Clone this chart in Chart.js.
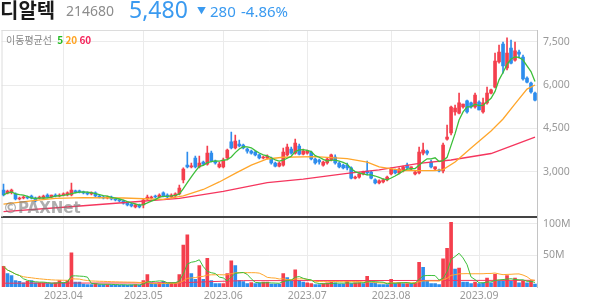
<!DOCTYPE html>
<html>
<head>
<meta charset="utf-8">
<script src="https://cdn.jsdelivr.net/npm/chart.js@4.4.0/dist/chart.umd.min.js"></script>
<style>
  body { margin: 0; width: 594px; height: 304px; background: #fff; position: relative; overflow: hidden;
         font-family: "Noto Sans", "Noto Sans CJK KR", sans-serif; }
  canvas { position: absolute; left: 0; }
  #price { top: 0; }
  #vol { top: 217px; }
  .t { position: absolute; white-space: nowrap; line-height: 1; }
  .kr { font-family: "Noto Sans CJK KR", sans-serif; }
</style>
</head>
<body>
<canvas id="price" width="594" height="218"></canvas>
<canvas id="vol" width="594" height="87"></canvas>

<div class="t kr" style="left:0;top:0;font-size:20px;font-weight:700;color:#1a1a1a">디알텍</div>
<div class="t" style="left:66px;top:4px;font-size:14px;color:#8c8c8c">214680</div>
<div class="t" style="left:129px;top:-2px;font-size:23px;color:#3a9af0">5,480</div>
<div class="t" style="left:197px;top:6px;font-size:9px;color:#3a9af0">▼</div>
<div class="t" style="left:210px;top:4px;font-size:15px;color:#3a9af0">280</div>
<div class="t" style="left:241px;top:4px;font-size:15px;color:#3a9af0">-4.86%</div>
<div class="t kr" style="left:6px;top:35px;font-size:10px;color:#888">이동평균선
  <span style="color:#22bb22;font-weight:600;margin-left:3px">5</span>
  <span style="color:#ffa321;font-weight:600">20</span>
  <span style="color:#f5245b;font-weight:600">60</span></div>

<script>
// --- data (daily candles, KRW) ---
const DATES = [
  '2023-03-13','2023-03-14','2023-03-15','2023-03-16','2023-03-17','2023-03-20','2023-03-21','2023-03-22','2023-03-23','2023-03-24',
  '2023-03-27','2023-03-28','2023-03-29','2023-03-30','2023-03-31',
  '2023-04-03','2023-04-04','2023-04-05','2023-04-06','2023-04-07','2023-04-10','2023-04-11','2023-04-12','2023-04-13','2023-04-14',
  '2023-04-17','2023-04-18','2023-04-19','2023-04-20','2023-04-21','2023-04-24','2023-04-25','2023-04-26','2023-04-27','2023-04-28',
  '2023-05-02','2023-05-03','2023-05-04','2023-05-08','2023-05-09','2023-05-10','2023-05-11','2023-05-12','2023-05-15','2023-05-16',
  '2023-05-17','2023-05-18','2023-05-19','2023-05-22','2023-05-23','2023-05-24','2023-05-25','2023-05-26','2023-05-30','2023-05-31',
  '2023-06-01','2023-06-02','2023-06-05','2023-06-07','2023-06-08','2023-06-09','2023-06-12','2023-06-13','2023-06-14','2023-06-15',
  '2023-06-16','2023-06-19','2023-06-20','2023-06-21','2023-06-22','2023-06-23','2023-06-26','2023-06-27','2023-06-28','2023-06-29','2023-06-30',
  '2023-07-03','2023-07-04','2023-07-05','2023-07-06','2023-07-07','2023-07-10','2023-07-11','2023-07-12','2023-07-13','2023-07-14',
  '2023-07-17','2023-07-18','2023-07-19','2023-07-20','2023-07-21','2023-07-24','2023-07-25','2023-07-26','2023-07-27','2023-07-28','2023-07-31',
  '2023-08-01','2023-08-02','2023-08-03','2023-08-04','2023-08-07','2023-08-08','2023-08-09','2023-08-10','2023-08-11','2023-08-14',
  '2023-08-16','2023-08-17','2023-08-18','2023-08-21','2023-08-22','2023-08-23','2023-08-24','2023-08-25','2023-08-28','2023-08-29',
  '2023-08-30','2023-08-31',
  '2023-09-01','2023-09-04','2023-09-05','2023-09-06','2023-09-07','2023-09-08','2023-09-11','2023-09-12','2023-09-13','2023-09-14',
  '2023-09-15','2023-09-18','2023-09-19','2023-09-20','2023-09-21'
];

const OPEN = [
  2365,2265,2300,2230,2055,2090,2125,2160,2090,2090, 2090,2195,2125,2195,2160,
  2195,2195,2195,2330,2330,2300,2265,2230,2265,2160, 2125,2090,2125,2055,2020,1985,1915,1880,1780,1850,
  1850,2055,2090,2160,2125,2265,2195,2125,2160,2230, 2715,3230,3165,3475,3165,3335,3265,3645,3370,3165,
  3165,3475,4030,3820,3960,3925,3785,3715,3680,3580, 3475,3475,3475,3300,3195,3230,3580,3785,3645,3890,3610,
  3645,3680,3440,3405,3230,3300,3405,3510,3300,3230, 3230,3130,2780,2815,2920,3025,2990,2715,2610,2645,2715,
  2920,3060,2955,3025,3230,3095,2920,2955,3645,3715, 3335,3095,3060,3025,4130,4340,5070,5030,5240,5450,5380,5240,
  5410,5070,5380,5720,5930,6800,7420,6590,7280,6860, 7140,6970,6240,6070,5720
];
const HIGH = [
  2575,2365,2400,2265,2125,2160,2160,2195,2125,2160, 2195,2230,2195,2230,2230,
  2265,2300,2610,2365,2365,2330,2300,2300,2300,2195, 2160,2160,2160,2090,2055,2020,1950,1915,1880,1880,
  2055,2195,2160,2195,2230,2300,2230,2230,2265,2540, 3130,3680,3300,3545,3545,3370,3890,3715,3405,3335,
  3475,3785,4375,4270,4095,3960,3820,3750,3715,3610, 3545,3580,3510,3335,3335,3820,3960,3855,4130,3960,3785,
  3750,3715,3475,3440,3370,3475,3610,3580,3335,3265, 3300,3165,2850,2955,3025,3370,3025,2750,2715,2750,2850,
  3130,3095,3130,3195,3300,3165,3025,3855,3995,3750, 3405,3165,3095,3995,4615,5270,5310,5720,5340,5480,5410,5720,
  5450,5550,5930,5860,7110,7380,7490,7630,7560,7490, 7210,7040,6280,6100,5760
];
const LOW = [
  2160,2230,2230,2020,2020,2055,2055,2055,1950,2055, 2055,2090,2090,2125,2125,
  2160,2160,2160,2265,2265,2230,2195,2195,2125,2090, 2055,2055,2020,1985,1950,1880,1815,1780,1745,1745,
  1745,2020,2055,2090,2090,2125,2090,2090,2125,2195, 2610,3130,3130,3130,3130,3230,3230,3335,3265,3130,
  3130,3405,3785,3785,3855,3785,3645,3610,3545,3440, 3440,3440,3265,3165,3165,3195,3545,3610,3610,3580,3580,
  3610,3405,3265,3265,3195,3265,3370,3265,3130,3095, 3060,2750,2750,2780,2885,2885,2750,2575,2575,2610,2680,
  2885,2920,2920,2990,3095,3060,2885,2920,3580,3580, 3130,3060,2990,2955,4095,4270,4960,5000,5200,5030,5200,5200,
  5135,5030,5340,5690,5900,6760,6410,6520,6730,6830, 6930,6170,6070,5720,5450
];
const CLOSE = [
  2195,2330,2365,2055,2090,2125,2090,2090,1985,2125, 2160,2125,2195,2160,2195,
  2230,2265,2365,2300,2300,2265,2230,2265,2160,2125, 2090,2125,2055,2020,1985,1915,1850,1815,1850,1780,
  2020,2125,2125,2125,2195,2160,2125,2195,2230,2435, 3095,3165,3195,3165,3300,3265,3645,3370,3300,3265,
  3405,3750,3820,4060,3890,3820,3715,3645,3580,3475, 3510,3545,3300,3195,3300,3680,3855,3645,3995,3610,3715,
  3715,3440,3300,3335,3335,3440,3580,3300,3165,3130, 3130,2780,2815,2920,2990,2955,2780,2610,2680,2715,2815,
  3095,2955,3095,3165,3130,3165,2990,3680,3750,3645, 3165,3165,3025,3925,4200,5240,5200,5380,5340,5070,5240,5650,
  5135,5380,5720,5830,6830,7140,6660,7110,6760,7180, 7070,6210,6100,5760,5480
];

// volume in millions of shares, with the bar colour (r = red, b = blue)
const VOLUME = [
  32.5,21,18,10,9,6.5,9,10,6.5,6.5, 6.5,5.5,5.5,6.5,10,
  6.5,10,54,7.6,7.6,4.7,4,4,5.5,4, 4,4,3.5,3.5,3,3.5,3,3.5,4,3,
  10,19.5,6.5,5.5,6.5,9,5.5,6.5,6.5,19.5, 66,82,21,12,33.6,12,45,10,5.5,5.5,
  5.5,21,41.4,33.6,10,8.6,5.5,7,5.5,6.5, 7.6,7.6,4.7,4.7,4.7,21,15,9,27,10,7.6,
  6.5,5.5,4,4,5.5,6.5,7.6,6.5,4.7,4.7, 9,5.5,6.5,6.5,5.5,17,6.5,6.5,4,4,4,
  12,5.5,6.5,5.5,5.5,5.5,6.5,38.8,31,9, 5.5,5.5,4,44.5,61,102,28.4,30,7.6,7.6,5.5,7.6,
  5.5,6.5,14,6.5,20,9,9,18,9,14, 6.5,9,6.5,9,4.7
];
const VOL_DIR = (
  'rbbbbbrbbrrbbrr' +
  'brrbbbbbrbbrbbbbbbrb' +
  'rrbbrbbrrrrrbbrbrbbb' +
  'rrrbbbbrbbrrbbbrbbrbb' +
  'rrbbrrrbbbrbrrbrbbbbb' +
  'rbrbrbrrbbbbbrrrbrbbbr' +
  'bbrbrbbrbrbrbrb'
).split('');

// moving-average lines read at sample days [dayIndex, value]
const MA20_PTS = [[0,1880],[8,2005],[13,2075],[20,2105],[30,2090],[40,2040],[45,2160],[50,2385],[54,2645],
  [58,2940],[62,3230],[66,3440],[70,3500],[78,3520],[86,3455],[91,3335],[94,3165],[100,3040],[108,3040],
  [110,3075],[113,3335],[117,3820],[122,4410],[125,4825],[128,5345],[131,5860],[133,6000]];
const MA60_PTS = [[0,1615],[15,1770],[33,1960],[44,2080],[55,2320],[66,2625],[75,2745],[86,2945],[94,3060],
  [104,3285],[112,3405],[122,3630],[128,3940],[133,4200]];
const VOL_MA60_PTS = [[0,6],[44,6.5],[52,8.5],[60,10],[133,10.5]];

const PRICE_TICKS = [3000, 4500, 6000, 7500];
const VOL_TICKS = [50, 100];

// --- helpers ---
const RED = '#f43f4d', BLUE = '#2e8ded', GREEN = '#3dbf3a', ORANGE = '#ffa62b', PINK = '#f5365e';
const GRID = '#ebebeb';

function movingAvg(arr, n) {
  return arr.map((_, i) => {
    const s = arr.slice(Math.max(0, i - n + 1), i + 1);
    return s.reduce((a, b) => a + b, 0) / s.length;
  });
}
function fromPts(pts) {
  const out = DATES.map(() => null);
  pts.forEach(([i, v]) => { out[i] = v; });
  return out;
}
const monthStart = DATES.map((d, i) => i > 0 && d.slice(5, 7) !== DATES[i - 1].slice(5, 7));
const candleColor = CLOSE.map((c, i) => (c >= OPEN[i] ? RED : BLUE));
const volColor = VOL_DIR.map(d => (d === 'r' ? RED : BLUE));

function xScale(showLabels, border) {
  return {
    type: 'category',
    offset: true,
    grid: { offset: false, drawTicks: false, tickLength: 0, color: c => (monthStart[c.index] ? GRID : 'rgba(0,0,0,0)') },
    border: border,
    ticks: {
      display: showLabels, autoSkip: false, maxRotation: 0, minRotation: 0, padding: 3,
      color: '#999', font: { size: 10.5, family: '"Noto Sans", sans-serif' },
      callback: (v, i) => (monthStart[i] ? DATES[i].slice(0, 7).replace('-', '.') : '')
    },
    afterFit: s => { s.height = showLabels ? 17 : 0; s.paddingLeft = 0; s.paddingRight = 0; }
  };
}
function yScale(min, max, ticks, fmt) {
  return {
    position: 'right', min: min, max: max,
    afterBuildTicks: s => { s.ticks = ticks.map(v => ({ value: v })); },
    grid: { color: GRID, drawTicks: false, tickLength: 0 },
    border: { color: '#c4c4c4' },
    ticks: { color: '#999', padding: 6, font: { size: 10.5, family: '"Noto Sans", sans-serif' }, callback: fmt },
    afterFit: s => { s.width = 57; s.paddingTop = 0; s.paddingBottom = 0; }
  };
}
function line(data, color, width) {
  return { type: 'line', data: data, borderColor: color, borderWidth: width, pointRadius: 0,
           spanGaps: true, tension: 0, order: 0 };
}

// light frame on the left (and top of the price panel)
const framePlugin = {
  id: 'frame',
  beforeDatasetsDraw(chart, args, opts) {
    const { ctx, chartArea: a } = chart;
    ctx.save();
    ctx.strokeStyle = '#dcdcdc';
    ctx.lineWidth = 1;
    ctx.beginPath();
    ctx.moveTo(a.left + 0.5, a.top);
    ctx.lineTo(a.left + 0.5, a.bottom);
    if (opts.top) { ctx.moveTo(a.left, a.top + 0.5); ctx.lineTo(a.right, a.top + 0.5); }
    ctx.stroke();
    ctx.restore();
  }
};
const watermark = {
  id: 'watermark',
  afterDatasetsDraw(chart) {
    const ctx = chart.ctx;
    ctx.save();
    ctx.fillStyle = 'rgba(120,120,120,0.6)';
    ctx.font = 'bold 15px "DejaVu Sans"';
    ctx.textBaseline = 'alphabetic';
    ctx.fillText('©PAXNet', 3, 213);
    ctx.restore();
  }
};

const common = {
  responsive: false, animation: false, events: [],
  plugins: { legend: { display: false }, tooltip: { enabled: false } }
};

// --- price panel ---
const ma5 = movingAvg(CLOSE, 5);
new Chart(document.getElementById('price'), {
  type: 'bar',
  data: {
    labels: DATES,
    datasets: [
      line(ma5, GREEN, 1.3),
      line(fromPts(MA20_PTS), ORANGE, 1.3),
      line(fromPts(MA60_PTS), PINK, 1.3),
      { data: OPEN.map((o, i) => [o, CLOSE[i]]), backgroundColor: candleColor, barThickness: 3,
        minBarLength: 1, grouped: false, order: 1 },
      { data: LOW.map((l, i) => [l, HIGH[i]]), backgroundColor: candleColor, barThickness: 1,
        grouped: false, order: 2 }
    ]
  },
  options: {
    ...common,
    layout: { padding: { left: 1.5, top: 30, bottom: 1, right: 0 } },
    scales: {
      x: xScale(false, { display: true, color: '#444', width: 2 }),
      y: yScale(1432, 7905, PRICE_TICKS, v => v.toLocaleString('en-US'))
    },
    plugins: { ...common.plugins, frame: { top: true } }
  },
  plugins: [framePlugin, watermark]
});

// --- volume panel ---
new Chart(document.getElementById('vol'), {
  type: 'bar',
  data: {
    labels: DATES,
    datasets: [
      line(movingAvg(VOLUME, 5), GREEN, 1),
      line(movingAvg(VOLUME, 20), ORANGE, 1),
      line(fromPts(VOL_MA60_PTS), PINK, 1),
      { data: VOLUME, backgroundColor: volColor, barThickness: 3, grouped: false, order: 1 }
    ]
  },
  options: {
    ...common,
    layout: { padding: { left: 1.5, top: 1, bottom: 0, right: 0 } },
    scales: {
      x: xScale(true, { display: false }),
      y: yScale(0, 108.7, VOL_TICKS, v => v + 'M')
    },
    plugins: { ...common.plugins, frame: { top: false } }
  },
  plugins: [framePlugin]
});
</script>
</body>
</html>
